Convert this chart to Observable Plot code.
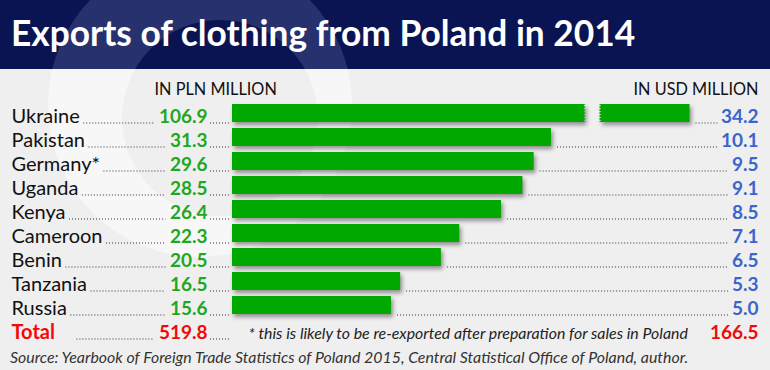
<!DOCTYPE html>
<html><head><meta charset="utf-8">
<script src="https://cdn.jsdelivr.net/npm/d3@7"></script>
<script src="https://cdn.jsdelivr.net/npm/@observablehq/plot@0.6"></script>
<style>
body{margin:0;background:#f0f0f0;}
#wrap{position:relative;width:770px;height:370px;overflow:hidden;background:#efefef;font-family:Lato,sans-serif;}
#bg{position:absolute;left:0;top:0;}
#title{position:absolute;left:11px;top:12px;color:#fff;font:700 35.3px/1.2 Lato,sans-serif;white-space:nowrap;}
#chart{position:absolute;left:0;top:69px;}
#source{position:absolute;left:10px;top:347px;color:#333;font:italic 15.9px/1.2 Lato,sans-serif;white-space:nowrap;}
</style>
</head><body>
<div id="wrap">
  <svg id="bg" width="770" height="370">
    <defs>
      <clipPath id="ch"><rect x="0" y="0" width="770" height="69"/></clipPath>
      <clipPath id="cb"><rect x="0" y="69" width="770" height="301"/></clipPath>
    </defs>
    <rect x="0" y="0" width="770" height="69" fill="#0b1453"/>
    <path clip-path="url(#ch)" fill="#27316e" fill-rule="evenodd"
      d="M48,105a152,152 0 1,0 304,0a152,152 0 1,0 -304,0Z M122,118a98,98 0 1,0 196,0a98,98 0 1,0 -196,0Z"/>
    <path clip-path="url(#cb)" fill="#f7f7f7" fill-rule="evenodd"
      d="M48,105a152,152 0 1,0 304,0a152,152 0 1,0 -304,0Z M122,118a98,98 0 1,0 196,0a98,98 0 1,0 -196,0Z"/>
  </svg>
  <div id="title">Exports of clothing from Poland in 2014</div>
  <div id="chart"></div>
  <div id="source">Source: Yearbook of Foreign Trade Statistics of Poland 2015, Central Statistical Office of Poland, author.</div>
</div>
<script>
// ---- data ----
const countries = ["Ukraine","Pakistan","Germany*","Uganda","Kenya","Cameroon","Benin","Tanzania","Russia"];
const plnValues = [106.9, 31.3, 29.6, 28.5, 26.4, 22.3, 20.5, 16.5, 15.6];
const usdValues = [34.2, 10.1, 9.5, 9.1, 8.5, 7.1, 6.5, 5.3, 5.0];
const totalLabel = "Total";
const totalPln = 519.8;
const totalUsd = 166.5;
const headerLeft = "IN PLN MILLION";
const headerRight = "IN USD MILLION";
const footnote = "* this is likely to be re-exported after preparation for sales in Poland";
// Ukraine's bar is drawn broken (axis break): visible segments in PLN units
const ukraineBrokenBar = [
  {from: 0, to: 34.7, cut: "right"},
  {from: 36.0, to: 44.9, cut: "left"}
];

// ---- layout ----
const W = 770, H = 301;
const barStart = 232, usdRight = 758, labelX = 11, plnRight = 207;
const xMax = (usdRight - barStart) / 10.19;
const green = "#00a800", textGreen = "#1fa81f", blue = "#3a66cc", red = "#f00a0a";
const labelSize = 20;
const labelFont = labelSize + "px Lato", valueFont = "bold 19px Lato";

const ctx = document.createElement("canvas").getContext("2d");
const tw = (t, f) => { ctx.font = f; return ctx.measureText(t).width; };
const fmt = v => v.toFixed(1);

const rows = countries.map((c, i) => ({country: c, pln: plnValues[i], usd: usdValues[i], broken: i === 0}));
const rowNames = [...countries, totalLabel];
const xs = Plot.scale({x: {type: "linear", domain: [0, xMax], range: [barStart, usdRight]}});
const inv = px => xs.invert(px);

const bars = [];
rows.forEach(r => {
  if (r.broken) ukraineBrokenBar.forEach(s => bars.push({country: r.country, x1: s.from, x2: s.to, cut: s.cut}));
  else bars.push({country: r.country, x1: 0, x2: r.pln, cut: null});
});

const leaders = [];
rows.forEach(r => {
  leaders.push({row: r.country, x1: inv(labelX + tw(r.country, labelFont) + 4), x2: inv(plnRight - tw(fmt(r.pln), valueFont) - 4)});
  leaders.push({row: r.country, x1: inv(plnRight + 3), x2: inv(barStart - 3)});
  const end = r.broken ? ukraineBrokenBar[ukraineBrokenBar.length - 1].to : r.pln;
  leaders.push({row: r.country, x1: inv(xs.apply(end) + 6), x2: inv(usdRight - tw(fmt(r.usd), valueFont) - 3)});
});
leaders.push({row: totalLabel, x1: inv(labelX + tw(totalLabel, "bold " + labelFont) + 22), x2: inv(plnRight - tw(fmt(totalPln), valueFont) - 4)});
leaders.push({row: totalLabel, x1: inv(plnRight + 3), x2: inv(barStart - 3)});

function jagged(index, scales, values, dims, context, next) {
  const g = next(index, scales, values, dims, context);
  d3.select(g).selectAll("rect").each(function(_, j) {
    const d = bars[index[j]];
    if (!d.cut) return;
    const r = d3.select(this);
    const x = +r.attr("x"), y = +r.attr("y"), w = +r.attr("width"), h = +r.attr("height");
    const teeth = 6, a = 2.2;
    const pts = [];
    if (d.cut === "right") {
      pts.push([x, y], [x + w, y]);
      for (let k = 1; k <= teeth * 2; k++) pts.push([x + w - (k % 2 ? a : 0), y + h * k / (teeth * 2)]);
      pts.push([x, y + h]);
    } else {
      pts.push([x, y], [x + w, y], [x + w, y + h], [x, y + h]);
      for (let k = teeth * 2 - 1; k >= 1; k--) pts.push([x + (k % 2 ? a : 0), y + h * k / (teeth * 2)]);
    }
    d3.select(this.parentNode).insert("path", () => this)
      .attr("d", "M" + pts.map(q => q.join(",")).join("L") + "Z")
      .attr("fill", r.attr("fill") || green);
    r.remove();
  });
  return g;
}

const rowText = {lineAnchor: "bottom", dy: 9.7};
const plot = Plot.plot({
  width: W, height: H,
  marginLeft: barStart, marginRight: W - usdRight, marginTop: 32, marginBottom: 29,
  style: {background: "transparent", fontFamily: "Lato, sans-serif", overflow: "visible"},
  x: {type: "linear", domain: [0, xMax], range: [barStart, usdRight], axis: null},
  y: {type: "band", domain: rowNames, range: [32, 272], paddingInner: 0.25, paddingOuter: 0.125, axis: null},
  marks: [
    Plot.ruleY(leaders, {y: "row", x1: "x1", x2: "x2", dy: 9.5, stroke: "#333", strokeWidth: 1, strokeDasharray: "1,2"}),
    Plot.barX(bars, {y: "country", x1: "x1", x2: "x2", fill: green,
      imageFilter: "drop-shadow(2px 3px 2px rgba(0,0,0,0.4))", render: jagged}),
    Plot.text(rows, {y: "country", text: "country", frameAnchor: "left", dx: labelX - barStart, textAnchor: "start",
      fontSize: labelSize, fill: "#111", ...rowText}),
    Plot.text(rows, {y: "country", text: d => fmt(d.pln), frameAnchor: "left", dx: plnRight - barStart, textAnchor: "end",
      fontSize: 19, fontWeight: "bold", fill: textGreen, ...rowText}),
    Plot.text(rows, {y: "country", text: d => fmt(d.usd), frameAnchor: "right", textAnchor: "end",
      fontSize: 19, fontWeight: "bold", fill: blue, ...rowText}),
    Plot.text([totalLabel], {y: d => d, text: d => d, frameAnchor: "left", dx: labelX - barStart, textAnchor: "start",
      fontSize: labelSize, fontWeight: "bold", fill: red, ...rowText}),
    Plot.text([totalPln], {y: () => totalLabel, text: d => fmt(d), frameAnchor: "left", dx: plnRight - barStart, textAnchor: "end",
      fontSize: 19, fontWeight: "bold", fill: red, ...rowText}),
    Plot.text([totalUsd], {y: () => totalLabel, text: d => fmt(d), frameAnchor: "right", textAnchor: "end",
      fontSize: 19, fontWeight: "bold", fill: red, ...rowText}),
    Plot.text([footnote], {y: () => totalLabel, text: d => d, frameAnchor: "left", dx: 16, textAnchor: "start",
      fontSize: 15.9, fontStyle: "italic", fill: "#222", ...rowText}),
    Plot.text([headerLeft], {text: d => d, frameAnchor: "top-left", dx: 154 - barStart, dy: -7, textAnchor: "start",
      lineAnchor: "bottom", fontSize: 16.3, fill: "#111"}),
    Plot.text([headerRight], {text: d => d, frameAnchor: "top-right", dy: -7, textAnchor: "end",
      lineAnchor: "bottom", fontSize: 16.3, fill: "#111"})
  ]
});
document.getElementById("chart").appendChild(plot);
</script>
</body></html>
